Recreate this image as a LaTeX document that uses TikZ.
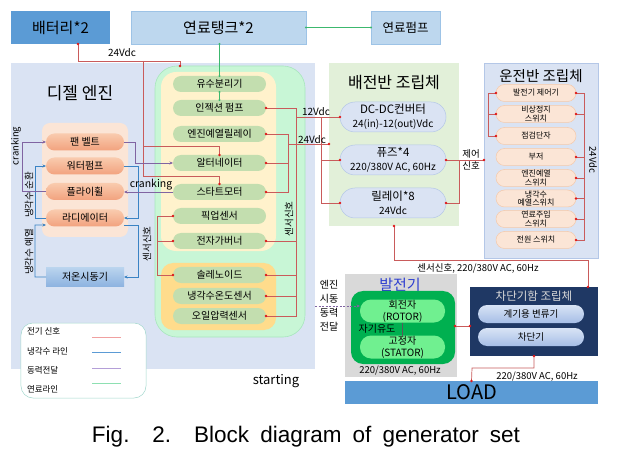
\documentclass[tikz,border=0pt]{standalone}
\usepackage{fontspec}
\setmainfont{Noto Sans CJK KR}
\newfontfamily\capfont{Liberation Sans}
\usetikzlibrary{arrows.meta,calc}
\newcommand{\fz}[2]{\fontsize{#1bp}{#2bp}\selectfont}
\definecolor{batblue}{HTML}{5B9BD5}
\definecolor{lblue}{HTML}{BDD7EE}
\definecolor{lblueb}{HTML}{9DC3E6}
\definecolor{enginebg}{HTML}{DAE3F3}
\definecolor{orangebg}{HTML}{FBE5D6}
\definecolor{opilltop}{HTML}{F9CBAE}
\definecolor{opillbot}{HTML}{F2A27E}
\definecolor{mintbg}{HTML}{C8F6D6}
\definecolor{mintb}{HTML}{A8E6BE}
\definecolor{yellowbg}{HTML}{FFF2CC}
\definecolor{ambbg}{HTML}{FFDC8C}
\definecolor{gpill}{HTML}{C3DEAF}
\definecolor{distbg}{HTML}{E2F0D9}
\definecolor{bpill}{HTML}{DAE3F3}
\definecolor{bpillb}{HTML}{B4C7E7}
\definecolor{opbg}{HTML}{DAE3F3}
\definecolor{oppill}{HTML}{FBE5D6}
\definecolor{oppillb}{HTML}{F5C9AA}
\definecolor{genbg}{HTML}{D9D9D9}
\definecolor{gengreen}{HTML}{00B050}
\definecolor{genpill}{HTML}{70F090}
\definecolor{navy}{HTML}{1F3864}
\definecolor{nptop}{HTML}{D8E3F5}
\definecolor{npbot}{HTML}{A6BEE6}
\definecolor{coldtop}{HTML}{BAD4EE}
\definecolor{coldbot}{HTML}{8DB3E0}
\definecolor{sigred}{HTML}{C95B5B}
\definecolor{dotred}{HTML}{E01818}
\definecolor{coolblue}{HTML}{3A83C4}
\definecolor{powpurple}{HTML}{8064A2}
\definecolor{fuelgreen}{HTML}{3CB86E}
\definecolor{genblue}{HTML}{2E3FD0}
\definecolor{legred}{HTML}{F0A0A0}
\definecolor{legblue}{HTML}{5B9BD5}
\definecolor{legpurple}{HTML}{B49FD8}
\definecolor{leggreen}{HTML}{8EE0B2}
\begin{document}
\begin{tikzpicture}[x=1bp,y=-1bp,
  every node/.style={inner sep=0pt, outer sep=0pt},
  topbox/.style={minimum height=33bp, font=\fz{15}{18}},
  opillst/.style={top color=opilltop, bottom color=opillbot, rounded corners=8.5bp,
    minimum width=78bp, minimum height=17bp, font=\fz{10}{12}},
  gpillst/.style={fill=gpill, rounded corners=8bp, minimum width=93bp, minimum height=16bp, font=\fz{10}{12}},
  bpillst/.style={fill=bpill, draw=bpillb, line width=0.5bp, rounded corners=15bp,
    minimum width=106bp, minimum height=30bp, align=center, font=\fz{10}{14}},
  oppillst/.style={fill=oppill, draw=oppillb, line width=0.5bp, rounded corners=8.5bp,
    minimum width=80bp, minimum height=17bp, align=center, font=\fz{8}{8.6}},
  genpillst/.style={fill=genpill, rounded corners=11bp, minimum width=85bp, minimum height=23bp,
    align=center, font=\fz{10}{12}},
  navypill/.style={top color=nptop, bottom color=npbot, rounded corners=9bp,
    minimum width=106bp, minimum height=18bp, font=\fz{9.5}{11}},
  lbl/.style={font=\fz{10}{12}},
  sig/.style={draw=sigred, line width=0.7bp},
  cool/.style={draw=coolblue, line width=0.7bp, -{Stealth[length=3.5bp,width=3bp]}},
  pow/.style={draw=powpurple, line width=0.7bp, -{Stealth[length=3.5bp,width=3bp]}},
  fuel/.style={draw=fuelgreen, line width=0.7bp},
  rdot/.style={fill=dotred},
  gdot/.style={fill=fuelgreen}]
\useasboundingbox (0,0) rectangle (618,455);
\fill[white] (0,0) rectangle (618,455);

% ---------- top row ----------
\node[topbox, fill=batblue, minimum width=99bp] (bat) at (60.5,27.5) {배터리*2};
\node[topbox, fill=lblue, draw=lblueb, line width=0.6bp, minimum width=175bp] (tank) at (218.5,27.5) {연료탱크*2};
\node[topbox, fill=lblue, draw=lblueb, line width=0.6bp, minimum width=69bp, font=\fz{12.5}{15}] (pump) at (405.5,27.5) {연료펌프};

% ---------- panels ----------
\node[fill=enginebg, minimum width=304bp, minimum height=306bp] (epanel) at (163,216) {};
\node[fill=orangebg, rounded corners=8bp, minimum width=86bp, minimum height=114bp] (opanelL) at (85,180) {};
\node[fill=mintbg, draw=mintb, line width=0.6bp, rounded corners=22bp, minimum width=150bp, minimum height=271bp] (gpanel) at (230,201.5) {};
\node[fill=yellowbg, rounded corners=15bp, minimum width=115bp, minimum height=179bp] (ypanel) at (218.5,161.5) {};
\node[fill=ambbg, rounded corners=12bp, minimum width=115bp, minimum height=67bp] (apanel) at (218.5,296.5) {};
\node[fill=distbg, minimum width=130bp, minimum height=163bp] (dpanel) at (394,144.5) {};
\node[fill=opbg, draw=bpillb, line width=0.5bp, minimum width=114bp, minimum height=195bp] (opanel) at (541,160.5) {};
\node[fill=genbg, minimum width=112bp, minimum height=103bp] (genpanel) at (401,325.5) {};
\node[font=\fz{15}{18}, text=genblue] (gentitle) at (400,285) {발전기};
\node[fill=gengreen, rounded corners=12bp, minimum width=104bp, minimum height=73bp] (ggreen) at (403,327.5) {};
\node[fill=navy, minimum width=128bp, minimum height=69bp] (breaker) at (534,321.5) {};
\node[fill=batblue, minimum width=253bp, minimum height=23bp, font=\fz{20}{22}] (load) at (471.5,392.5) {LOAD};

% ---------- titles ----------
\node[font=\fz{17}{20}] (etitle) at (80,93) {디젤 엔진};
\node[font=\fz{16}{19}] (dtitle) at (394,83) {배전반 조립체};
\node[font=\fz{14.5}{17}] (otitle) at (541,76) {운전반 조립체};
\node[font=\fz{11.5}{13}, text=black!15] (btitle) at (534,296) {차단기함 조립체};

% ---------- engine left pills ----------
\node[opillst] (fan) at (85,142) {팬 벨트};
\node[opillst] (wp) at (85,166) {워터펌프};
\node[opillst] (fly) at (85,191.5) {플라이휠};
\node[opillst] (rad) at (85,218) {라디에이터};
\node[top color=coldtop, bottom color=coldbot, minimum width=78bp, minimum height=19bp, font=\fz{10}{12}] (cold) at (85,277) {저온시동기};

% ---------- engine middle pills ----------
\node[gpillst] (sep) at (219.5,84) {유수분리기};
\node[gpillst] (inj) at (219.5,108) {인젝션 펌프};
\node[gpillst] (glow) at (219.5,134) {엔진예열릴레이};
\node[gpillst] (alt) at (219.5,163) {알터네이터};
\node[gpillst] (start) at (219.5,192) {스타트모터};
\node[gpillst] (pick) at (219.5,216) {픽업센서};
\node[gpillst] (gov) at (219.5,241) {전자가버너};
\node[gpillst] (sol) at (219.5,275) {솔레노이드};
\node[gpillst] (cool) at (219.5,296) {냉각수온도센서};
\node[gpillst] (oil) at (219.5,316) {오일압력센서};

% ---------- distribution pills ----------
\node[bpillst] (dcdc) at (393,117) {\fz{11.5}{14}DC-DC컨버터\\\fz{10}{12}24(in)-12(out)Vdc};
\node[bpillst] (fuse) at (393,160) {\fz{11.5}{14}퓨즈*4\\\fz{10}{12}220/380V AC, 60Hz};
\node[bpillst] (relay) at (393,203) {\fz{11.5}{14}릴레이*8\\\fz{10}{12}24Vdc};

% ---------- operation panel pills ----------
\node[oppillst] (gctrl) at (536,93) {발전기 제어기};
\node[oppillst] (estop) at (536,114) {비상정지\\스위치};
\node[oppillst] (chk) at (536,136) {점검단자};
\node[oppillst] (buz) at (536,157) {부저};
\node[oppillst] (eheat) at (536,178) {엔진예열\\스위치};
\node[oppillst] (cheat) at (536,198.5) {냉각수\\예열스위치};
\node[oppillst] (fsw) at (536,219) {연료주입\\스위치};
\node[oppillst] (pwr) at (536,240) {전원 스위치};

% ---------- generator / breaker pills ----------
\node[genpillst] (rotor) at (402.5,311) {회전자\\(ROTOR)};
\node[genpillst] (stator) at (402.5,347) {고정자\\(STATOR)};
\node[navypill] (ct) at (531,314) {계기용 변류기};
\node[navypill] (cb) at (531,337) {차단기};

% ---------- legend ----------
\node[fill=white, draw=mintb!60!lblueb, line width=0.5bp, rounded corners=12bp, minimum width=125bp, minimum height=75bp] (legend) at (83.5,360.5) {};
\node[anchor=west, font=\fz{8.5}{10}] (l1) at (27,331) {전기 신호};
\node[anchor=west, font=\fz{8.5}{10}] (l2) at (27,351) {냉각수 라인};
\node[anchor=west, font=\fz{8.5}{10}] (l3) at (27,370) {동력전달};
\node[anchor=west, font=\fz{8.5}{10}] (l4) at (27,389) {연료라인};
\draw[legred, line width=1bp] (92,337) -- (121,337);
\draw[legblue, line width=1bp] (92,352) -- (121,352);
\draw[legpurple, line width=1bp] (92,368) -- (121,368);
\draw[leggreen, line width=1bp] (92,383) -- (121,383);

% ---------- fuel lines ----------
\draw[fuel] (tank.south -| sep.north) -- (sep.north);
\draw[fuel] (sep.south) -- (inj.north);
\draw[fuel] (tank.east) -- (pump.west);
\foreach \p in {tank.east, pump.west, sep.north, sep.south, inj.north}
  \fill[gdot] (\p) circle (1.2bp);
\fill[gdot] (tank.south -| sep.north) circle (1.2bp);

% ---------- battery 24V ----------
\coordinate (bj) at (143,61);
\draw[sig] ([xshift=17.5bp]bat.south) |- (180,61) -- (gpanel.north -| 180,0);
\draw[sig] (bj) -- (143,146) -| (alt.north);
\draw[sig] (143,146) -- (143,176) -| (start.north);
\node[lbl] (v24a) at (122,53) {24Vdc};

% ---------- injection pump / sensor bus / 12V ----------
\draw[sig] (inj.east) -| (296,117) -- (dcdc.west);
\draw[sig] (296,117) |- (oil.east);
\draw[sig] (gov.east) -- (gov.east -| 296,0);
\draw[sig] (sol.east) -- (sol.east -| 296,0);
\draw[sig] (cool.east) -- (cool.east -| 296,0);
\node[lbl] (v12) at (316,112) {12Vdc};
\draw[sig] (321,117) |- (relay.west);
\draw[sig] (fuse.west -| 321,0) -- (fuse.west);

% ---------- 24V bus ----------
\draw[sig] (glow.east) -| (288,192) -- (start.east);
\draw[sig] (alt.east) -- (alt.east -| 288,0);
\coordinate (v24end) at (329,144);
\draw[sig] (288,144) -- (v24end);
\node[lbl] (v24b) at (312,140) {24Vdc};

% ---------- left sensor signals ----------
\draw[sig] (pick.west) -| (157,275) -- (sol.west);
\draw[sig] (gov.west) -- (gov.west -| 157,0);
\node[lbl, rotate=90, font=\fz{9.5}{11}] (sL) at (147,244) {센서신호};
\node[lbl, rotate=90, font=\fz{9.5}{11}] (sR) at (289,219) {센서신호};

% ---------- distribution to operation ----------
\draw[sig] (fuse.east) -- (fuse.east -| opanel.west);
\draw[sig] (relay.east) -| (459,160);
\node[align=center, font=\fz{9.5}{12}] (ctrl) at (471,160) {제어\\신호};

% ---------- operation panel wiring ----------
\draw[sig] (gctrl.west) -| (488,136) -- (chk.west);
\draw[sig] (estop.west) -- (estop.west -| 488,0);
\draw[sig] (gctrl.east) -| (584,240) -- (pwr.east);
\foreach \n in {estop, buz, eheat, cheat, fsw}
  \draw[sig] (\n.east) -- (\n.east -| 584,0);
\node[rotate=-90, font=\fz{9.5}{11}] (v24c) at (593,160) {24Vdc};

% ---------- to breaker / load ----------
\draw[sig] (dpanel.south) |- (588,260) -- (breaker.north -| 588,0);
\node[font=\fz{9.5}{11}] (sens2) at (478,268) {센서신호, 220/380V AC, 60Hz};
\draw[sig] ([yshift=1.5bp]ggreen.east) -- ([yshift=1.5bp]ggreen.east -| breaker.west);
\draw[sig] (breaker.south) |- (472,368) -- (load.north);
\node[font=\fz{9.5}{11}] (acl) at (537,377) {220/380V AC, 60Hz};
\node[font=\fz{9.5}{11}] (acg) at (400,371) {220/380V AC, 60Hz};

% ---------- generator internals ----------
\draw[black!65, line width=0.8bp] (rotor.south) -- (stator.north);
\node[font=\fz{10}{12}] (mag) at (377,329) {자기유도};
\node[align=center, font=\fz{10}{14}] (eng) at (329,306) {엔진\\시동\\동력\\전달};
\coordinate (dstart) at (315,306);
\draw[pow, dashed, dash pattern=on 2bp off 1.5bp] (dstart) -- (dstart -| rotor.west);

% ---------- cooling lines ----------
\draw[cool] (rad.west) -| (35,166) -- (wp.west);
\draw[cool] (wp.east) -| (138,218) -- (rad.east);
\draw[cool] ([yshift=-7bp]rad.east) -| (138,277) -- (cold.east);
\draw[cool] (cold.west) -| (35,225) -- ([yshift=-7bp]rad.west);
\node[rotate=90, font=\fz{9.5}{11}] (cc1) at (29,195) {냉각수 순환};
\node[rotate=90, font=\fz{9.5}{11}] (cc2) at (29,252) {냉각수 예열};

% ---------- power transmission ----------
\draw[pow] (fan.east) -| (135,163) -- (alt.west);
\draw[pow] (start.west) -- (start.west -| fly.east);
\draw[pow] (fly.west) -| (22,142) -- (fan.west);
\node[font=\fz{10.5}{12}] (crk1) at (151,185) {cranking};
\node[rotate=90, font=\fz{9.5}{11}] (crk2) at (16,146) {cranking};

% ---------- red dots ----------
\foreach \p in {inj.east, glow.east, alt.east, start.east, gov.east, sol.east, cool.east, oil.east,
  pick.west, gov.west, sol.west, alt.north, start.north, dcdc.west, fuse.west, relay.west,
  fuse.east, relay.east, gctrl.west, estop.west, chk.west, gctrl.east, estop.east, buz.east,
  eheat.east, cheat.east, fsw.east, pwr.east, dpanel.south, breaker.south, load.north, v24end}
  \fill[rdot] (\p) circle (1.3bp);
\fill[rdot] ([xshift=17.5bp]bat.south) circle (1.3bp);
\fill[rdot] (gpanel.north -| 180,0) circle (1.3bp);
\fill[rdot] (fuse.east -| opanel.west) circle (1.3bp);
\fill[rdot] (breaker.north -| 588,0) circle (1.3bp);
\fill[rdot] ([yshift=1.5bp]ggreen.east) circle (1.3bp);
\fill[rdot] ([yshift=1.5bp]ggreen.east -| breaker.west) circle (1.3bp);

% ---------- bottom labels ----------
\node[font=\fz{13}{15}] (starting) at (276,381) {starting};
\node[font=\capfont\fz{22.5}{25}] (cap) at (306,437) {\makebox[428bp][s]{Fig. 2. Block diagram of generator set}};
\end{tikzpicture}
\end{document}
